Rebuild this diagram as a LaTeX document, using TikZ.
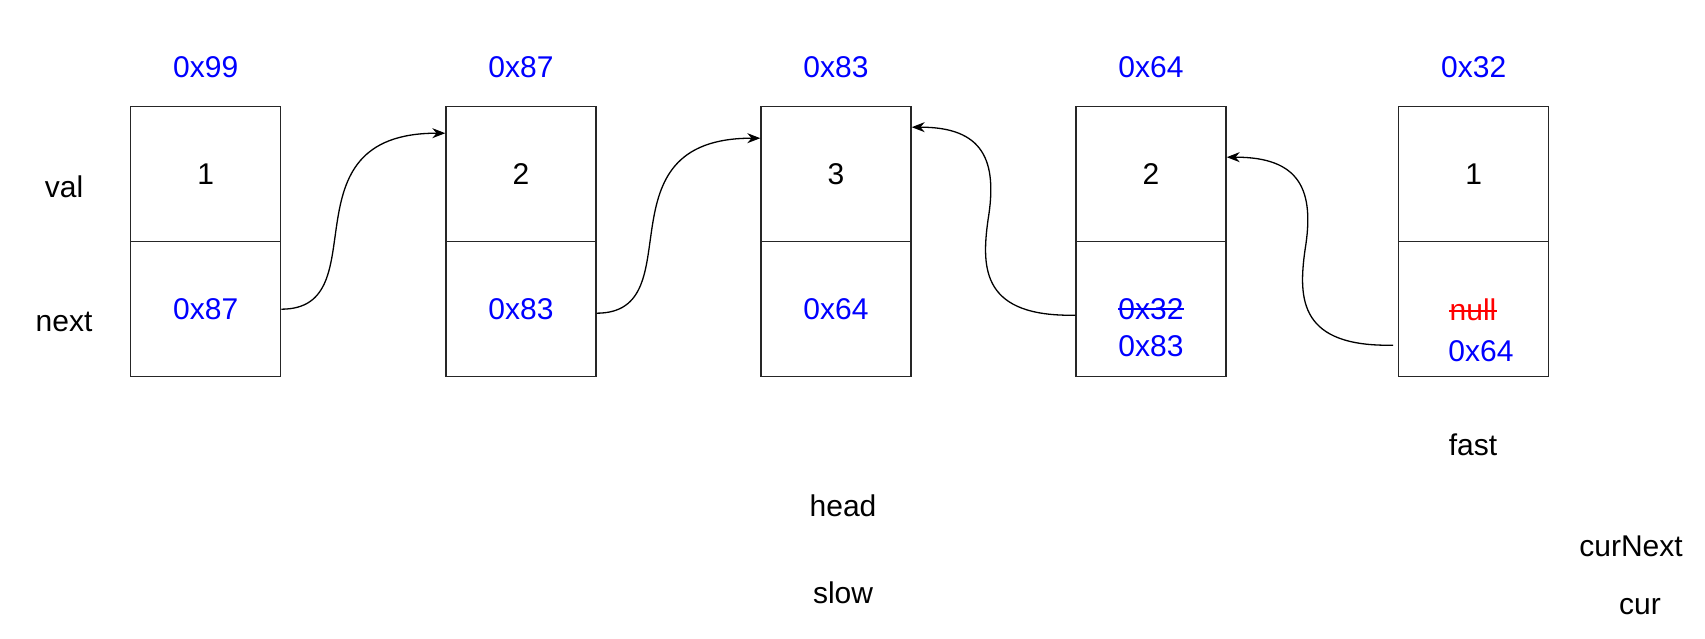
\documentclass[tikz,border=0pt]{standalone}
\usepackage{fontspec}
\setmainfont{Liberation Sans}
\usetikzlibrary{arrows.meta}
\definecolor{addrblue}{RGB}{0,0,255}
\definecolor{nullred}{RGB}{255,0,0}
\begin{document}
\begin{tikzpicture}[x=1pt,y=-1pt,
  every node/.style={font=\fontsize{30}{36}\selectfont},
  cell/.style={draw=black!85, line width=1.4pt, minimum width=150pt, minimum height=135pt, inner sep=0pt, anchor=center},
  addr/.style={text=addrblue},
  lbl/.style={text=black},
  link/.style={draw=black, line width=1.3pt, -{Stealth[length=13pt,width=10pt]}},
  strike/.style={line width=2pt}
]
\useasboundingbox (0,0) rectangle (1705,639);
% boxes
\foreach \i/\x in {1/205.7,2/521,3/836,4/1151,5/1473.7}{
  \node[cell] (v\i) at (\x,174.2) {};
  \node[cell] (n\i) at (\x,309.2) {};
}
% values
\node at (v1) {1};
\node at (v2) {2};
\node at (v3) {3};
\node at (v4) {2};
\node at (v5) {1};
% next fields
\node[addr] at (n1) {0x87};
\node[addr] at (n2) {0x83};
\node[addr] at (n3) {0x64};
\node[addr, inner sep=0pt] (s4) at (1151,309) {0x32};
\node[addr] (t4) at (1151,346) {0x83};
\node[text=nullred, inner sep=0pt] (s5) at (1473,310) {null};
\node[addr] (t5) at (1481,351) {0x64};
\draw[strike, addrblue] (s4.west) -- (s4.east);
\draw[strike, nullred] ([yshift=-1pt]s5.west) -- ([yshift=-1pt]s5.east);
% addresses
\node[addr] (a1) at (205.7,67) {0x99};
\node[addr] (a2) at (521,67) {0x87};
\node[addr] (a3) at (836,67) {0x83};
\node[addr] (a4) at (1151,67) {0x64};
\node[addr] (a5) at (1473.7,67) {0x32};
% row labels
\node[lbl] (lval) at (64,187) {val};
\node[lbl] (lnext) at (64,322) {next};
% pointer labels
\node[lbl] (fast) at (1473,445) {fast};
\node[lbl] (head) at (843,506) {head};
\node[lbl] (slow) at (843,593) {slow};
\node[lbl] (curnext) at (1631,546) {curNext};
\node[lbl] (cur) at (1640,607) {cur};
% links
\draw[link] (n1.east) .. controls (380,309) and (280,133) .. ([yshift=41pt]v2.west);
\draw[link] ([yshift=-4pt]n2.east) .. controls (695,313) and (595,138) .. ([yshift=36pt]v3.west);
\draw[link] ([shift={(-5pt,-36pt)}]n5.west) .. controls (1300,347) and (1298,300) .. (1305,250) .. controls (1315,190) and (1300,157) .. ([yshift=17pt]v4.east);
\draw[link] ([yshift=-6pt]n4.west) .. controls (983,317) and (981,270) .. (988,220) .. controls (998,160) and (983,127) .. ([yshift=47pt]v3.east);
\end{tikzpicture}
\end{document}
